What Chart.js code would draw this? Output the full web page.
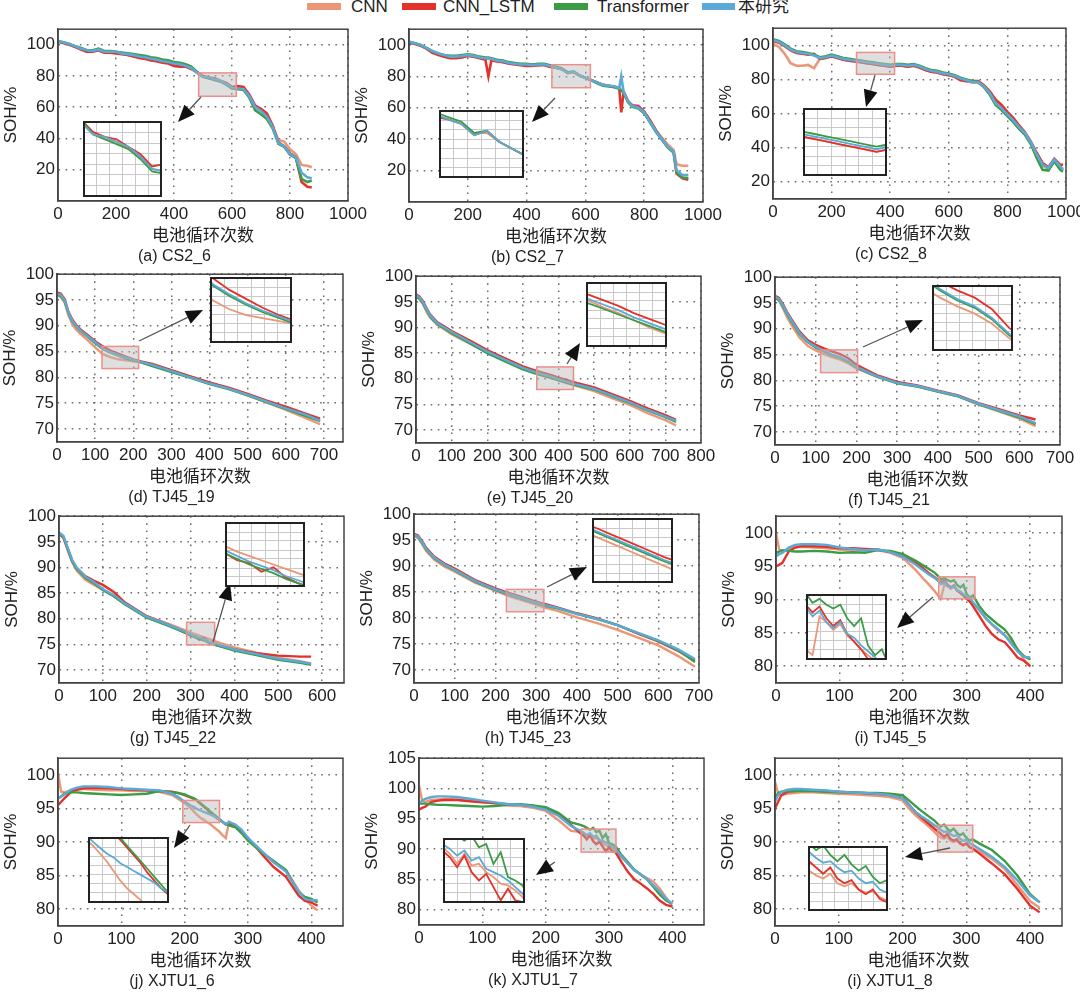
<!DOCTYPE html>
<html>
<head>
<meta charset="utf-8">
<script src="https://cdn.jsdelivr.net/npm/chart.js@4.4.1/dist/chart.umd.min.js"></script>
<style>
  body { margin: 0; width: 1080px; height: 994px; position: relative; overflow: hidden; background: #fff;
         font-family: "Liberation Sans", Arial, "Noto Sans CJK SC", sans-serif; color: #222; }
  .box { position: absolute; }
  .inset { position: absolute; background: #fff; }
  .sw { position: absolute; top: 3px; height: 7px; width: 34px; }
  .lg { position: absolute; top: -3px; font-size: 17px; line-height: 20px; white-space: nowrap; }
</style>
</head>
<body>
<div class="sw" style="left:307px;background:#eb9677"></div><div class="lg" style="left:351px">CNN</div>
<div class="sw" style="left:402px;background:#e2322b"></div><div class="lg" style="left:443px">CNN_LSTM</div>
<div class="sw" style="left:554px;background:#3b9c45"></div><div class="lg" style="left:597px">Transformer</div>
<div class="sw" style="left:702px;width:33px;background:#5aa9d6"></div><div class="lg" style="left:738px">本研究</div>
<script>
// series
const seriesNames = ['CNN', 'CNN_LSTM', 'Transformer', '本研究'];
const seriesColors = ['#eb9677', '#e2322b', '#3b9c45', '#5aa9d6'];

// tick labels
const xt1000 = [0, 200, 400, 600, 800, 1000];
const xt800 = [0, 100, 200, 300, 400, 500, 600, 700, 800];
const xt700 = [0, 100, 200, 300, 400, 500, 600, 700];
const xt600 = [0, 100, 200, 300, 400, 500, 600];
const xt400 = [0, 100, 200, 300, 400];
const ytCS = [20, 40, 60, 80, 100];
const yt70 = [70, 75, 80, 85, 90, 95, 100];
const yt80 = [80, 85, 90, 95, 100];
const yt105 = [80, 85, 90, 95, 100, 105];

// (a) CS2_6
const a_cyc = [0,20,40,60,80,100,120,140,160,180,200,220,240,260,280,300,320,340,360,380,400,420,440,460,480,500,520,540,560,580,600,620,640,660,680,700,720,740,760,780,800,820,840,860,875];
const a_cnn = [102,101.5,100,98.5,97,95.5,96,96.5,95,95.5,95,94.5,93.5,93,92.5,91.5,91,90,89.5,88.5,87.5,87,86,84.5,82,79.5,78.5,78,76.5,75,72.5,72,71.5,67,60.5,58,54.5,48,39,38,33,30,23,22.5,21.5];
const a_lstm = [102,101,100,98.5,97,95.5,95.5,96.5,95,95,94.5,94,93.5,92.5,91.5,91,90,89.5,88.5,88,86.5,86,86,84.5,82.5,80,79,78.5,77,75.5,73,73.5,73,68,61,59,56,48.5,37.5,35,30.5,28,12,9,8.5];
const a_tf = [102.5,101.5,100.5,99,98,96.5,96.5,97.5,96,96,95.5,95,94.5,94,93.5,93,92,91.5,90.5,90,89,88.5,87.5,86,82.5,79.5,78.5,77.5,76.5,74.5,72,71.5,71,66,58,55.5,52.5,46.5,36.5,34.5,29.5,27.5,14,12,13];
const a_our = [102.5,101.5,100.5,99,97.5,96.5,96,97,95.5,95.5,95.5,94.5,94,93.5,92.5,92,91,90.5,89.5,89,88,87.5,86.5,85,82,79.5,79,78,77,75,72.5,72,71.5,67,60,57.5,54,47.5,37,35,30,28,18,15,14.5];

// (b) CS2_7
const b_cyc = [0,20,40,60,80,100,120,140,160,180,200,220,240,260,270,280,300,320,340,360,380,400,420,440,460,480,500,520,540,560,580,600,620,640,660,680,700,715,722,730,745,760,780,800,820,840,860,880,900,910,930,950];
const b_cnn = [101.5,101,99.5,98,95.5,94.5,93,92.5,92,93,93.5,92.5,92,91.5,91,90.5,90,89,88.5,88,87.5,87,87,87,87.5,86.5,85.5,84.5,82.5,82.5,80.5,79,77.5,76,74.5,74,73.5,72.5,71,70,64.5,61,60,57.5,51.5,45.5,41,36.5,33,24,23,23];
const b_lstm = [101.5,100.5,99.5,97.5,95,93.5,92.5,91.5,91.5,92,93,92.5,91.5,90.5,80,90,89.5,89,88,87.5,87,86.5,86.5,87,87,86,85.5,84.5,82,83,80.5,79,77.5,76,74.5,74,73,72.5,57,70,64,61.5,61,57.5,52,45.5,40,35,31.5,18,15,14];
const b_tf = [102,101,100,98,96,94.5,93.5,93,93,93.5,94,93.5,92.5,92,92,91.5,90.5,90,89,88.5,88,88,87.5,88,88,87,86,85,82.5,83,80.5,79,77.5,75.5,74,73.5,73,72,71,69.5,63.5,60.5,59.5,56.5,50.5,44.5,39.5,34.5,31.5,19,15.5,15];
const b_our = [102,101,100,98,96,94.5,93.5,92.5,92.5,93,93.5,93,92,91.5,91.5,91,90,89.5,88.5,88,87.5,87.5,87,87.5,87.5,86.5,85.5,84.5,82,83,80.5,79,77.5,76,74.5,74,73.5,72.5,80,70,64,61,60,57,51,45,40,35,32,20,17,17];

// (c) CS2_8
const c_cyc = [0,20,40,60,80,100,120,140,160,180,200,220,240,260,280,300,320,340,360,380,400,420,440,460,480,500,520,540,560,580,600,620,640,660,680,700,720,740,760,780,800,820,840,860,880,900,920,940,960,980,990];
const c_cnn = [101,99,95,89.5,88,88,88.5,86.5,92,92.5,93.5,92.5,91.5,91,90.5,90,89.5,89,88.5,88,87.5,88,88,87.5,88,87,85.5,84.5,84,83,82.5,81.5,80,79,78,78,75.5,71.5,65.5,62.5,59,55.5,51.5,48,42.5,35.5,29.5,27.5,32,28.5,27.5];
const c_lstm = [102.5,101.5,99.5,97,95.5,95,94.5,95,92,92.5,93.5,92.5,91.5,91,90.5,90,89.5,89,88.5,88,87.5,88,88,87.5,88,87,85.5,84.5,84,83,82.5,81.5,79.5,79,79,79,76.5,73,68,65,61,57.5,53,49,43.5,37,31,28.5,33.5,30,30];
const c_tf = [103.5,102.5,100.5,98,96.5,96,95.5,94.5,93,93.5,94.5,93.5,92.5,92,91.5,91,90.5,90,89.5,89,88.5,89,89,88.5,89,88,86.5,85.5,85,84,83.5,82.5,81,80,79,78.5,75.5,71,65,62,58.5,55,51,47.5,42,34,27,26.5,32,27,26];
const c_our = [103,102,100,97.5,96,95.5,95,94,92.5,93,94,93,92,91.5,91,90.5,90,89.5,89,88.5,88,88.5,88.5,88,88.5,87.5,86,85,84.5,83.5,83,82,80.5,79.5,78.5,78.5,76,72,66,63,59.5,56,52,48.5,43,36,30,28,33,29,27];

// (d) TJ45_19
const d_cyc = [0,10,20,30,40,50,60,80,100,120,140,160,180,200,220,250,300,350,400,450,500,550,600,650,690];
const d_cnn = [96,95.5,94.5,92,90.3,89.3,88.5,87.2,85.8,84.5,83.9,83.5,83.3,83.1,82.9,82.3,81.3,80.1,78.9,77.8,76.5,75.1,73.7,72.2,70.9];
const d_lstm = [96.5,96.2,95.2,92.7,91.2,90.2,89.4,88.2,87,86,85.2,84.6,84,83.5,83.1,82.6,81.4,80.2,79,78,76.8,75.5,74.3,73,72];
const d_tf = [96,95.8,94.8,92.4,90.9,89.9,89.1,87.9,86.6,85.5,84.8,84.2,83.7,83.3,82.9,82.2,81,79.9,78.7,77.7,76.5,75.2,73.9,72.6,71.5];
const d_our = [96.2,96,95,92.5,91,90,89.2,88,86.8,85.6,84.9,84.3,83.8,83.4,83,82.4,81.2,80,78.8,77.8,76.6,75.3,74,72.8,71.6];

// (e) TJ45_20
const e_cyc = [0,10,20,30,40,60,80,100,150,200,250,300,340,360,380,400,420,440,500,550,600,650,700,730];
const e_cnn = [96,95.5,94.5,93,91.9,90.5,89.6,88.7,86.9,85.1,83.5,82,81.1,80.6,80.2,79.7,79.2,78.8,77.6,76.2,74.9,73.3,71.9,70.9];
const e_lstm = [96.5,96,95.1,93.7,92.5,91,90.2,89.3,87.5,85.6,84,82.4,81.5,81.1,80.7,80.2,79.8,79.4,78.3,77,75.7,74.2,72.9,72];
const e_tf = [96,95.6,94.7,93.3,92.1,90.6,89.8,88.9,87,85,83.4,81.8,80.9,80.5,80.1,79.7,79.3,78.9,77.9,76.6,75.3,73.8,72.5,71.6];
const e_our = [96.3,95.8,94.9,93.5,92.3,90.8,90,89.1,87.2,85.3,83.7,82.1,81.2,80.8,80.4,79.9,79.5,79.1,78,76.7,75.4,73.9,72.6,71.8];

// (f) TJ45_21
const f_cyc = [0,10,20,30,40,60,80,100,120,140,160,180,200,250,300,350,400,450,500,550,600,640];
const f_cnn = [96,95.4,93.9,92.2,90.8,88.3,86.7,85.8,85.1,84.5,84,83.3,82.3,80.7,79.5,78.8,77.8,76.9,75.3,74,72.6,71.1];
const f_lstm = [96.4,96,94.7,93.2,91.9,89.5,87.8,86.9,86.2,85.6,85.1,84.3,83,81,79.7,79,78,77.1,75.6,74.4,73.2,72.4];
const f_tf = [96,95.6,94.3,92.8,91.5,89,87.4,86.4,85.6,84.9,84.4,83.6,82.5,80.7,79.4,78.8,77.8,76.9,75.4,74.1,72.8,71.5];
const f_our = [96.2,95.8,94.5,93,91.7,89.2,87.5,86.5,85.7,85,84.5,83.7,82.6,80.8,79.5,78.9,77.9,77,75.5,74.2,73,71.7];

// (g) TJ45_22
const g_cyc = [0,10,20,30,40,60,80,100,125,150,200,250,290,300,310,320,330,340,350,360,400,450,500,550,575];
const g_cnn = [96.5,95.8,93.3,91,89.4,87.6,86.6,85.6,84.4,82.9,80.5,79,77.7,77.3,77,76.7,76.4,76.1,75.8,75.5,74.4,73.4,72.4,71.7,71.3];
const g_lstm = [96.6,95.9,93.6,91.3,89.9,88.3,87.4,86.6,85.2,83.2,80.5,78.8,77.2,76.7,76.5,75.9,76.2,75.5,75.1,74.8,74,73.3,72.8,72.6,72.6];
const g_tf = [96.7,96,93.6,91.3,89.8,88,86.9,85.6,84.4,82.8,80.2,78.6,77.2,76.8,76.4,76.1,75.8,75.4,75.1,74.8,73.8,72.9,72,71.4,71];
const g_our = [96.8,96.2,93.8,91.5,90,88.2,87.1,85.8,84.6,83,80.4,78.8,77.4,77,76.6,76.3,76,75.6,75.3,75,74,73.1,72.2,71.6,71.2];

// (h) TJ45_23
const h_cyc = [0,10,20,30,50,75,100,150,200,230,250,270,290,310,330,350,400,450,500,550,600,650,690];
const h_cnn = [95.8,95.4,94.2,92.9,91.2,89.9,88.9,86.8,85.2,84.3,83.8,83.3,82.8,82.3,81.8,81.4,80.1,79,77.7,76.2,74.7,72.6,70.6];
const h_lstm = [96.2,95.9,94.8,93.5,91.8,90.5,89.5,87.3,85.7,84.9,84.4,83.9,83.4,82.9,82.5,82.1,80.9,79.9,78.6,77,75.5,73.6,71.8];
const h_tf = [96,95.6,94.5,93.2,91.5,90.2,89.2,87,85.4,84.6,84.1,83.6,83.1,82.6,82.2,81.9,80.8,79.8,78.6,77.1,75.6,73.7,71.5];
const h_our = [96,95.7,94.6,93.3,91.6,90.3,89.3,87.1,85.5,84.7,84.2,83.7,83.2,82.7,82.3,82,80.8,79.8,78.6,77.1,75.7,73.9,72.1];

// (i) TJ45_5
const i_cyc = [0,5,10,20,30,40,60,80,100,120,140,160,180,200,210,220,230,240,250,255,260,265,270,275,280,285,290,295,300,305,310,320,330,340,350,360,370,380,390,400];
const i_cnn = [100,97.5,97.2,97.6,97.8,97.9,97.8,97.7,97.5,97.4,97.3,97.4,97,96.2,95.3,94.4,93.3,92.3,91.2,90.6,90.3,92.3,92,91.6,91.9,91.3,91,90.6,90.3,90,89.5,88.3,87.2,86.2,85.3,84.6,83.8,82.6,81,80];
const i_lstm = [95,95.2,95.5,97.2,97.8,98,98,97.9,97.7,97.7,97.6,97.5,97.1,96.5,96,95.5,94.8,94,93.3,92.9,92.5,92.8,92.2,91.8,92.1,91.4,91,90.6,90.1,89.7,89,87.5,86,84.8,84,83.6,82.5,81.3,80.8,80];
const i_tf = [97,97.2,97.4,97.3,97.2,97.2,97.3,97.2,97,97.1,97,97.4,97.3,96.8,96.3,95.8,95.2,94.6,94,93.5,93,93.2,92.9,92.7,92.9,92.2,91.8,92.2,90.8,90.3,90.6,89,87.8,87,86.2,85.5,84.2,82.5,81.5,81];
const i_our = [96.5,96.8,97,97.8,98.2,98.3,98.3,98.2,97.8,97.6,97.4,97.5,97.1,96.4,95.8,95.2,94.5,93.8,93.2,92.8,92.3,92.6,92,91.7,92,91.4,91.2,90.8,90.5,90.2,89.6,88.5,87.2,86.3,85.5,84.6,83.4,82.2,81.4,81.3];

// (j) XJTU1_6
const j_cyc = [0,5,10,20,30,40,60,80,100,120,140,160,180,190,200,205,210,215,220,225,230,235,240,245,250,255,260,265,270,280,290,300,320,340,360,380,390,400,410];
const j_cnn = [100.3,97.5,97.4,97.7,97.9,97.9,97.8,97.7,97.7,97.6,97.6,97.5,97,96.4,95.8,95.4,95,94.5,94,93.6,93.3,93,92.7,92.3,91.9,91.5,91,90.6,93,92.4,91.6,90.5,88.7,87,85.8,82.8,81.5,80.5,79.8];
const j_lstm = [95.5,96,96.5,97.4,97.8,98,98.1,98,97.9,97.8,97.7,97.6,97.5,97.3,97,96.8,96.6,96.4,96.1,95.7,95.3,94.9,94.4,94,93.6,93.3,93,92.7,92.8,92.3,91.5,90.6,88.4,86.3,84.8,82,81.2,81,80.5];
const j_tf = [96.5,96.8,97.2,97.4,97.4,97.3,97.2,97.1,97,97.1,97.2,97.6,97.4,97.3,97.1,96.9,96.7,96.5,96.2,95.8,95.4,95,94.6,94.2,93.8,93.4,93,92.6,92.5,92.2,91.3,90.2,88.6,87.2,85.8,82.5,81.8,81.5,81];
const j_our = [96.5,96.8,97.1,97.8,98.1,98.3,98.3,98.2,98,97.9,97.8,97.7,97.2,96.7,96,95.7,95.4,95.2,94.9,94.7,94.5,94.3,94.1,93.9,93.6,93.4,93,92.6,93,92.6,91.8,90.6,88.8,87,85.6,82.6,81.5,81.3,81.3];

// (k) XJTU1_7
const k_cyc = [0,5,10,20,30,40,60,80,100,120,140,160,180,200,220,240,255,260,265,270,275,280,285,290,295,300,305,310,320,330,340,350,360,370,380,390,400];
const k_cnn = [100.5,98,97.8,98.1,98.2,98.3,98.2,98,97.8,97.5,97.2,97.1,96.8,96.3,94.8,93,92.8,92.4,91.8,92.4,91.7,91.8,91.3,91,90.6,90.5,90.2,89.8,88.6,87.6,86.5,85.8,85.2,84.6,83.5,82,80.5];
const k_lstm = [96.5,96.8,97,97.8,98,98.1,98.1,97.9,97.7,97.6,97.4,97.3,97.1,96.8,95.8,94,92.6,92.2,91.6,92.3,91.3,90.8,91.2,90.4,89.6,90.3,89.6,89.5,87.8,86.2,85,84.3,83.5,82.6,81.5,80.8,80.5];
const k_tf = [97.5,97.5,97.5,97.4,97.3,97.3,97.2,97.1,97,97.1,97.3,97.4,97.2,96.9,96,94.4,94,93.8,93.5,93.2,93.5,92.8,93,91.8,92.5,91,90.8,90.5,89,87.8,86.6,85.8,85,83.8,82.5,81.5,81];
const k_our = [97.5,98,98.3,98.6,98.7,98.7,98.6,98.3,98,97.7,97.4,97.3,97,96.5,95.5,93.8,93,92.7,92.3,92.6,92,92.2,91.5,91.3,91.1,90.8,90.4,90,88.8,87.6,86.5,85.8,85,84,83,81.8,81];

// (i) XJTU1_8
const l_cyc = [0,5,10,20,30,40,60,80,100,120,140,160,180,200,210,220,230,240,250,255,260,265,270,275,280,285,290,295,300,305,310,320,340,360,380,400,415];
const l_cnn = [99,97.2,97,97.2,97.3,97.4,97.4,97.3,97.2,97.1,97,96.9,96.7,96.2,95,94,93.2,92.4,91.5,91,90.7,90.5,90.8,90.2,90,90.2,89.8,89.6,89.7,89.3,89.1,88.6,87.5,86,83.6,81.2,80.2];
const l_lstm = [95,96,97,97.5,97.6,97.7,97.7,97.6,97.5,97.4,97.3,97.2,97,96.6,95.6,94.5,93.6,92.8,92,91.6,91.2,90.8,91.2,90.5,90.2,90.4,89.8,89.5,89.8,89.2,89,88.3,86.8,85.2,83,80.5,79.5];
const l_tf = [96.5,97.3,97.5,97.6,97.6,97.6,97.6,97.5,97.4,97.4,97.3,97.3,97.2,97,96.2,95.4,94.6,93.9,93.2,92.7,92.3,92.6,92,91.6,92,91.4,91,91.3,90.6,90.2,90.4,89.8,88.8,87.2,85,82.2,81];
const l_our = [96,97,97.5,97.8,97.9,97.9,97.8,97.7,97.5,97.4,97.3,97.2,97,96.5,95.5,94.5,93.8,93.2,92.5,92.2,91.8,91.5,91.6,91.2,90.9,91,90.5,90.2,90.3,89.8,89.6,89,87.8,86.3,84.3,82,81];

// layout: plot box, zoom rectangle (data units), inset box and arrow (page px)
const panels = [
  {cap:'(a) CS2_6', cyc:a_cyc, vals:[a_cnn,a_lstm,a_tf,a_our], xr:[0,1000], xt:xt1000, yr:[0,110], yt:ytCS, lw:2.6,
   plot:[58,26,348,201], rect:[485,615,67,82], inset:[83,121,162,197], arrow:[201,97,178,122]},
  {cap:'(b) CS2_7', cyc:b_cyc, vals:[b_cnn,b_lstm,b_tf,b_our], xr:[0,1000], xt:xt1000, yr:[0,110], yt:ytCS, lw:2.6,
   plot:[409,26,703,202], rect:[486,617,72.7,87.4], inset:[439,110,524,178], arrow:[555,98,532,122]},
  {cap:'(c) CS2_8', cyc:c_cyc, vals:[c_cnn,c_lstm,c_tf,c_our], xr:[0,1000], xt:xt1000, yr:[10,110], yt:ytCS, lw:2.6,
   plot:[773,25,1066,199], rect:[285,415,83,95.8], inset:[803,108,887,176], arrow:[875,75,866,107]},
  {cap:'(d) TJ45_19', cyc:d_cyc, vals:[d_cnn,d_lstm,d_tf,d_our], xr:[0,750], xt:xt700, yr:[67.5,100], yt:yt70, lw:2.4,
   plot:[57,271,343,442], rect:[118,214,81.7,86], inset:[210,277,292,343], arrow:[139,341,203,310]},
  {cap:'(e) TJ45_20', cyc:e_cyc, vals:[e_cnn,e_lstm,e_tf,e_our], xr:[0,800], xt:xt800, yr:[67.5,100], yt:yt70, lw:2.4,
   plot:[416,273,701,443], rect:[339,442,77.9,82.3], inset:[586,282,667,347], arrow:[567,364,580,343]},
  {cap:'(f) TJ45_21', cyc:f_cyc, vals:[f_cnn,f_lstm,f_tf,f_our], xr:[0,700], xt:xt700, yr:[67.5,100], yt:yt70, lw:2.4,
   plot:[775,274,1060,445], rect:[112,203,81.5,85.9], inset:[932,285,1013,351], arrow:[863,347,923,320]},
  {cap:'(g) TJ45_22', cyc:g_cyc, vals:[g_cnn,g_lstm,g_tf,g_our], xr:[0,650], xt:xt600, yr:[67.5,100], yt:yt70, lw:2.4,
   plot:[59,513,344,683], rect:[291,355,74.9,79.3], inset:[225,522,305,587], arrow:[213,642,230,583]},
  {cap:'(h) TJ45_23', cyc:h_cyc, vals:[h_cnn,h_lstm,h_tf,h_our], xr:[0,700], xt:xt700, yr:[67.5,100], yt:yt70, lw:2.4,
   plot:[414,511,699,683], rect:[227,319,81.2,85.5], inset:[592,518,673,583], arrow:[547,587,587,567]},
  {cap:'(i) TJ45_5', cyc:i_cyc, vals:[i_cnn,i_lstm,i_tf,i_our], xr:[0,450], xt:xt400, yr:[77.5,102.5], yt:yt80, lw:2.4,
   plot:[776,513,1062,683], rect:[256,313,90.1,93.4], inset:[806,594,887,660], arrow:[933,597,897,628]},
  {cap:'(j) XJTU1_6', cyc:j_cyc, vals:[j_cnn,j_lstm,j_tf,j_our], xr:[0,450], xt:xt400, yr:[77.5,102.5], yt:yt80, lw:2.4,
   plot:[58,755,343,926], rect:[197,255,92.9,96.2], inset:[88,837,169,903], arrow:[190,825,174,848]},
  {cap:'(k) XJTU1_7', cyc:k_cyc, vals:[k_cnn,k_lstm,k_tf,k_our], xr:[0,450], xt:xt400, yr:[77.5,105], yt:yt105, lw:2.4,
   plot:[419,755,704,925], rect:[256,311,89.5,93.3], inset:[443,838,525,903], arrow:[555,862,536,875]},
  {cap:'(i) XJTU1_8', cyc:l_cyc, vals:[l_cnn,l_lstm,l_tf,l_our], xr:[0,450], xt:xt400, yr:[77.5,102.5], yt:yt80, lw:2.4,
   plot:[775,755,1062,926], rect:[255,310,88.5,92.5], inset:[808,846,888,911], arrow:[950,848,905,857]}
];

const FONT = '"Liberation Sans", Arial, "Noto Sans CJK SC", sans-serif';
const padL = 57, padT = 10, padR = 22, axisH = 46, capH = 19.2;

function makeDatasets(p, width) {
  // 本研究 drawn on top
  return seriesNames.map((name, k) => ({
    label: name,
    data: p.cyc.map((c, i) => ({x: c, y: p.vals[k][i]})),
    borderColor: seriesColors[k],
    borderWidth: width,
    pointRadius: 0,
    tension: 0,
    order: 4 - k
  }));
}

function framePlugin(color, w) {
  return {
    id: 'frame',
    afterDraw(chart) {
      const a = chart.chartArea, c = chart.ctx;
      c.save();
      c.strokeStyle = color; c.lineWidth = w;
      c.strokeRect(a.left, a.top, a.right - a.left, a.bottom - a.top);
      c.restore();
    }
  };
}

function makePanel(p) {
  const [L, T, R, B] = p.plot;
  const left = L - padL, top = T - padT;
  const w = R - L + padL + padR, h = B - T + padT + axisH + capH;
  const div = document.createElement('div');
  div.className = 'box';
  div.style.left = left + 'px'; div.style.top = top + 'px';
  div.style.width = w + 'px'; div.style.height = h + 'px';
  const cv = document.createElement('canvas');
  cv.width = w; cv.height = h;
  div.appendChild(cv);
  document.body.appendChild(div);

  const markPlugin = {
    id: 'mark',
    afterDatasetsDraw(chart) {
      const xs = chart.scales.x, ys = chart.scales.y, c = chart.ctx;
      const x0 = xs.getPixelForValue(p.rect[0]), x1 = xs.getPixelForValue(p.rect[1]);
      const y0 = ys.getPixelForValue(p.rect[3]), y1 = ys.getPixelForValue(p.rect[2]);
      c.save();
      c.fillStyle = 'rgba(185,185,185,0.45)';
      c.fillRect(x0, y0, x1 - x0, y1 - y0);
      c.strokeStyle = '#ec8f8a'; c.lineWidth = 1.5;
      c.strokeRect(x0, y0, x1 - x0, y1 - y0);
      // arrow toward the inset
      const ax0 = p.arrow[0] - left, ay0 = p.arrow[1] - top;
      const ax1 = p.arrow[2] - left, ay1 = p.arrow[3] - top;
      const ang = Math.atan2(ay1 - ay0, ax1 - ax0);
      const hl = 17, hw = 7;
      c.strokeStyle = '#555'; c.lineWidth = 1.3;
      c.beginPath(); c.moveTo(ax0, ay0);
      c.lineTo(ax1 - hl * Math.cos(ang), ay1 - hl * Math.sin(ang)); c.stroke();
      c.fillStyle = '#111';
      c.beginPath();
      c.moveTo(ax1, ay1);
      c.lineTo(ax1 - hl * Math.cos(ang) + hw * Math.sin(ang), ay1 - hl * Math.sin(ang) - hw * Math.cos(ang));
      c.lineTo(ax1 - hl * Math.cos(ang) - hw * Math.sin(ang), ay1 - hl * Math.sin(ang) + hw * Math.cos(ang));
      c.closePath(); c.fill();
      c.restore();
    }
  };

  const axisBase = {
    type: 'linear',
    grid: {color: '#6e6e6e', lineWidth: 1.5, drawTicks: false},
    border: {display: true, color: '#444', width: 1.5, dash: [1.6, 5.5]},
    ticks: {color: '#222', font: {family: FONT, size: 17}, autoSkip: false, maxRotation: 0,
            callback: v => String(v)}
  };

  new Chart(cv, {
    type: 'line',
    data: {datasets: makeDatasets(p, p.lw)},
    options: {
      responsive: false, animation: false, events: [],
      layout: {padding: {left: 0, top: padT, right: padR, bottom: 0}},
      plugins: {
        legend: {display: false}, tooltip: {enabled: false},
        title: {display: true, position: 'bottom', text: p.cap, color: '#222',
                font: {family: FONT, size: 16, weight: 'normal'}, padding: {top: 0, bottom: 0}}
      },
      scales: {
        x: Object.assign({}, axisBase, {
          min: p.xr[0], max: p.xr[1],
          ticks: Object.assign({}, axisBase.ticks, {padding: 3}),
          title: {display: true, text: '电池循环次数', color: '#222', font: {family: FONT, size: 17}, padding: 0},
          afterBuildTicks: s => { s.ticks = p.xt.map(v => ({value: v})); },
          afterFit: s => { s.height = axisH; }
        }),
        y: Object.assign({}, axisBase, {
          min: p.yr[0], max: p.yr[1],
          ticks: Object.assign({}, axisBase.ticks, {padding: 3}),
          title: {display: true, text: 'SOH/%', color: '#222', font: {family: FONT, size: 17}, padding: 0},
          afterBuildTicks: s => { s.ticks = p.yt.map(v => ({value: v})); },
          afterFit: s => { s.width = padL; }
        })
      }
    },
    plugins: [framePlugin('#444', 1.5), markPlugin]
  });
}

function makeInset(p) {
  const [x0, y0, x1, y1] = p.inset;
  const div = document.createElement('div');
  div.className = 'inset';
  div.style.left = x0 + 'px'; div.style.top = y0 + 'px';
  div.style.width = (x1 - x0) + 'px'; div.style.height = (y1 - y0) + 'px';
  const cv = document.createElement('canvas');
  cv.width = x1 - x0; cv.height = y1 - y0;
  div.appendChild(cv);
  document.body.appendChild(div);
  const sc = (range, count) => ({
    type: 'linear', min: range[0], max: range[1],
    ticks: {display: false, count: count},
    grid: {color: '#c9c9c9', lineWidth: 1, drawTicks: false},
    border: {display: false}
  });
  const xs = sc([p.rect[0], p.rect[1]], 7);
  xs.afterFit = s => { s.height = 0; };
  const ys = sc([p.rect[2], p.rect[3]], 8);
  ys.afterFit = s => { s.width = 0; };
  new Chart(cv, {
    type: 'line',
    data: {datasets: makeDatasets(p, 1.8)},
    options: {
      responsive: false, animation: false, events: [],
      layout: {padding: 1},
      plugins: {legend: {display: false}, tooltip: {enabled: false}},
      scales: {x: xs, y: ys}
    },
    plugins: [framePlugin('#222', 2)]
  });
}

panels.forEach(makePanel);
panels.forEach(makeInset);
</script>
</body>
</html>
